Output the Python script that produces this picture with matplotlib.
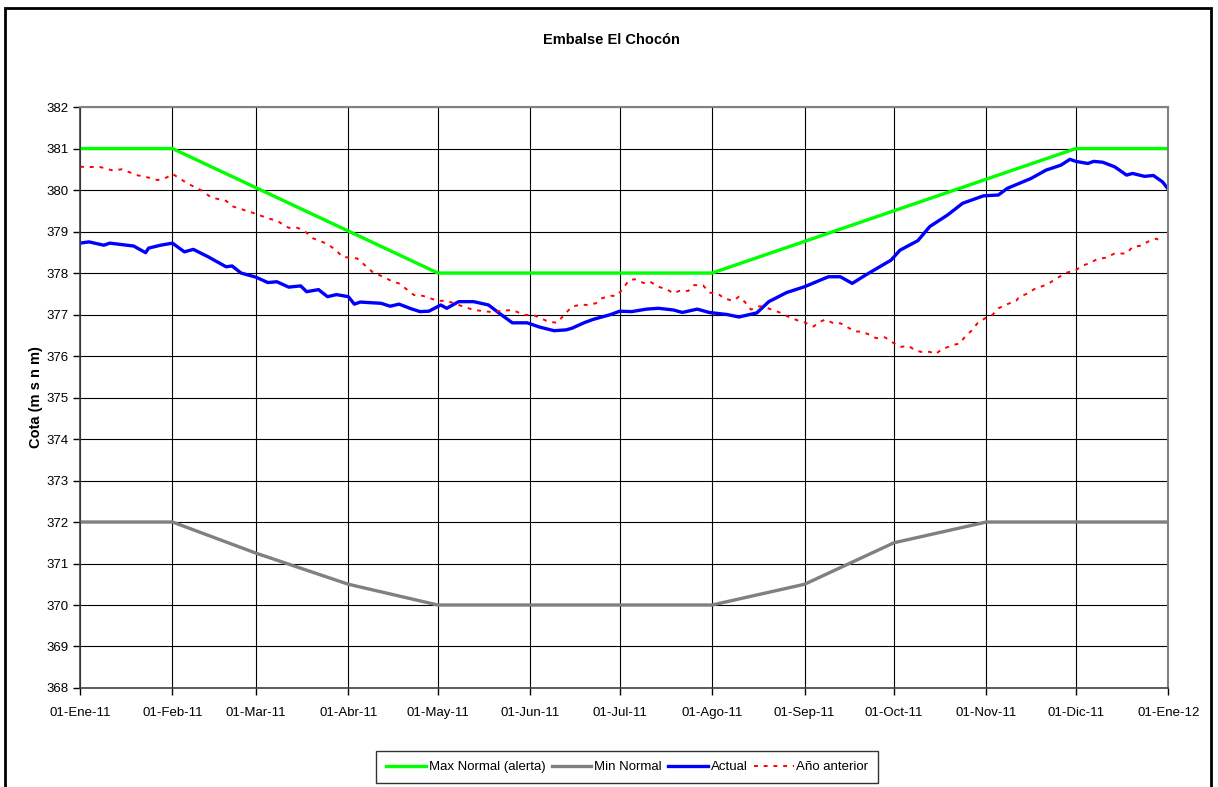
import numpy as np
import pandas as pd
import matplotlib
matplotlib.use("Agg")
import matplotlib.pyplot as plt
from matplotlib.patches import Rectangle

plt.rcParams['font.family'] = ['Liberation Sans', 'DejaVu Sans']

start = pd.Timestamp('2011-01-01')

# Max Normal (alerta) - knots
max_dates = ['2011-01-01', '2011-02-01', '2011-05-01', '2011-08-01', '2011-12-01', '2012-01-01']
max_vals = [381, 381, 378, 378, 381, 381]

# Min Normal - knots
min_dates = ['2011-01-01', '2011-02-01', '2011-03-01', '2011-04-01', '2011-05-01',
             '2011-08-01', '2011-09-01', '2011-10-01', '2011-11-01', '2012-01-01']
min_vals = [372, 372, 371.25, 370.5, 370, 370, 370.5, 371.5, 372, 372]

# Actual (days since 01-Ene-11)
actual_day = [0, 3, 8, 10, 18, 22, 23, 27, 31, 35, 38, 43, 49, 51, 54, 59, 63, 66, 70, 74,
              76, 80, 83, 86, 90, 92, 94, 101, 104, 107, 111, 114, 117, 121, 123, 127, 132,
              137, 141, 145, 148, 150, 154, 159, 163, 165, 169, 172, 175, 178, 181, 185, 190,
              194, 199, 202, 207, 211, 217, 221, 227, 231, 237, 243, 251, 255, 259, 263, 267,
              272, 275, 281, 285, 291, 296, 303, 308, 311, 319, 324, 329, 332, 334, 338, 340,
              343, 347, 351, 353, 357, 360, 363, 365]
actual_val = [378.72, 378.75, 378.67, 378.72, 378.65, 378.49, 378.60, 378.67, 378.72, 378.51,
              378.57, 378.39, 378.15, 378.17, 378.00, 377.90, 377.77, 377.79, 377.66, 377.69,
              377.55, 377.60, 377.43, 377.48, 377.43, 377.25, 377.30, 377.27, 377.20, 377.25,
              377.14, 377.07, 377.08, 377.23, 377.15, 377.31, 377.31, 377.23, 377.01, 376.80,
              376.80, 376.80, 376.70, 376.61, 376.63, 376.67, 376.80, 376.88, 376.94, 377.00,
              377.08, 377.07, 377.13, 377.15, 377.11, 377.05, 377.13, 377.05, 377.00, 376.94,
              377.04, 377.31, 377.53, 377.67, 377.91, 377.91, 377.75, 377.93, 378.10, 378.31,
              378.55, 378.78, 379.12, 379.40, 379.68, 379.86, 379.88, 380.04, 380.28, 380.48,
              380.60, 380.74, 380.69, 380.64, 380.69, 380.67, 380.56, 380.36, 380.40, 380.33,
              380.35, 380.20, 380.02]

# Año anterior (days since 01-Ene-11)
prev_day = [0, 7, 11, 14, 19, 23, 26, 29, 31, 36, 41, 44, 49, 51, 58, 63, 66, 70, 73, 76,
            78, 83, 86, 88, 93, 98, 101, 105, 107, 112, 115, 120, 123, 127, 132, 138, 142,
            145, 149, 152, 157, 160, 163, 165, 168, 170, 173, 175, 178, 180, 182, 184, 186,
            189, 191, 194, 197, 199, 201, 204, 206, 209, 211, 214, 216, 219, 221, 223, 225,
            228, 230, 235, 238, 241, 243, 246, 248, 250, 253, 255, 260, 262, 265, 267, 270,
            272, 275, 278, 280, 282, 285, 287, 289, 293, 295, 297, 299, 301, 304, 306, 308,
            311, 314, 315, 318, 320, 323, 325, 327, 329, 331, 334, 336, 339, 341, 344, 347,
            349, 351, 353, 356, 358, 361, 363]
prev_val = [380.56, 380.55, 380.47, 380.50, 380.36, 380.30, 380.24, 380.30, 380.39, 380.16,
            379.98, 379.82, 379.74, 379.61, 379.45, 379.32, 379.26, 379.09, 379.09, 378.97,
            378.84, 378.70, 378.54, 378.39, 378.35, 378.03, 377.93, 377.79, 377.75, 377.47,
            377.45, 377.33, 377.33, 377.23, 377.11, 377.06, 377.09, 377.11, 376.99, 376.99,
            376.83, 376.80, 377.04, 377.19, 377.24, 377.23, 377.27, 377.39, 377.45, 377.45,
            377.61, 377.82, 377.85, 377.76, 377.80, 377.67, 377.60, 377.51, 377.57, 377.57,
            377.71, 377.70, 377.53, 377.50, 377.39, 377.33, 377.43, 377.30, 377.12, 377.20,
            377.17, 377.04, 376.93, 376.85, 376.81, 376.71, 376.82, 376.88, 376.78, 376.79,
            376.59, 376.59, 376.51, 376.43, 376.45, 376.35, 376.22, 376.24, 376.14, 376.10,
            376.10, 376.05, 376.16, 376.27, 376.30, 376.48, 376.61, 376.79, 376.93, 376.99,
            377.15, 377.25, 377.33, 377.43, 377.51, 377.61, 377.69, 377.75, 377.85, 377.93,
            378.01, 378.07, 378.17, 378.25, 378.33, 378.37, 378.47, 378.47, 378.47, 378.63,
            378.66, 378.75, 378.83, 378.73]

month_labels = ['01-Ene-11', '01-Feb-11', '01-Mar-11', '01-Abr-11', '01-May-11', '01-Jun-11',
                '01-Jul-11', '01-Ago-11', '01-Sep-11', '01-Oct-11', '01-Nov-11', '01-Dic-11',
                '01-Ene-12']

fig = plt.figure(figsize=(12.18, 7.87), dpi=100)
ax = fig.add_axes([0.0657, 0.1258, 0.8935, 0.7382])

actual_dates = start + pd.to_timedelta(actual_day, unit='D')
prev_dates = start + pd.to_timedelta(prev_day, unit='D')

ax.plot(pd.to_datetime(max_dates), max_vals, color='#00ff00', lw=2.4, label='Max Normal (alerta)')
ax.plot(pd.to_datetime(min_dates), min_vals, color='#808080', lw=2.4, label='Min Normal')
ax.plot(actual_dates, actual_val, color='#0000ff', lw=2.4, label='Actual')
ax.plot(prev_dates, prev_val, color='#ff0000', lw=1.4, linestyle=(0, (2, 3)), label='Año anterior')

ax.set_ylim(368, 382)
ax.set_yticks(range(368, 383))
ax.set_xlim(pd.Timestamp('2011-01-01'), pd.Timestamp('2012-01-01'))
ticks = pd.date_range('2011-01-01', '2012-01-01', freq='MS')
ax.set_xticks(ticks)
ax.set_xticklabels(month_labels)
ax.grid(True, color='black', lw=0.8)
ax.set_axisbelow(True)
ax.tick_params(axis='both', direction='out', length=5, width=1, labelsize=9.5, color='black')
ax.tick_params(axis='x', pad=9)
for s in ['top', 'right']:
    ax.spines[s].set_color('#808080')
    ax.spines[s].set_linewidth(1.5)
for s in ['left', 'bottom']:
    ax.spines[s].set_color('#404040')
    ax.spines[s].set_linewidth(1.2)

ax.set_ylabel('Cota (m s n m)', fontsize=10.5, fontweight='bold', labelpad=2)
fig.text(0.502, 0.949, 'Embalse El Chocón', ha='center', va='center', fontsize=10.5, fontweight='bold')

leg = fig.legend(loc='center', bbox_to_anchor=(0.515, 0.0254), ncol=4, fontsize=9.5,
                 frameon=True, fancybox=False, handlelength=3.0, handletextpad=0.2,
                 columnspacing=0.5, borderpad=0.75)
leg.get_frame().set_edgecolor('black')
leg.get_frame().set_linewidth(1.0)

fig.patches.append(Rectangle((0.004, -0.02), 0.99, 1.01, transform=fig.transFigure,
                             fill=False, edgecolor='black', lw=2))

fig.savefig('out.png', dpi=100)
